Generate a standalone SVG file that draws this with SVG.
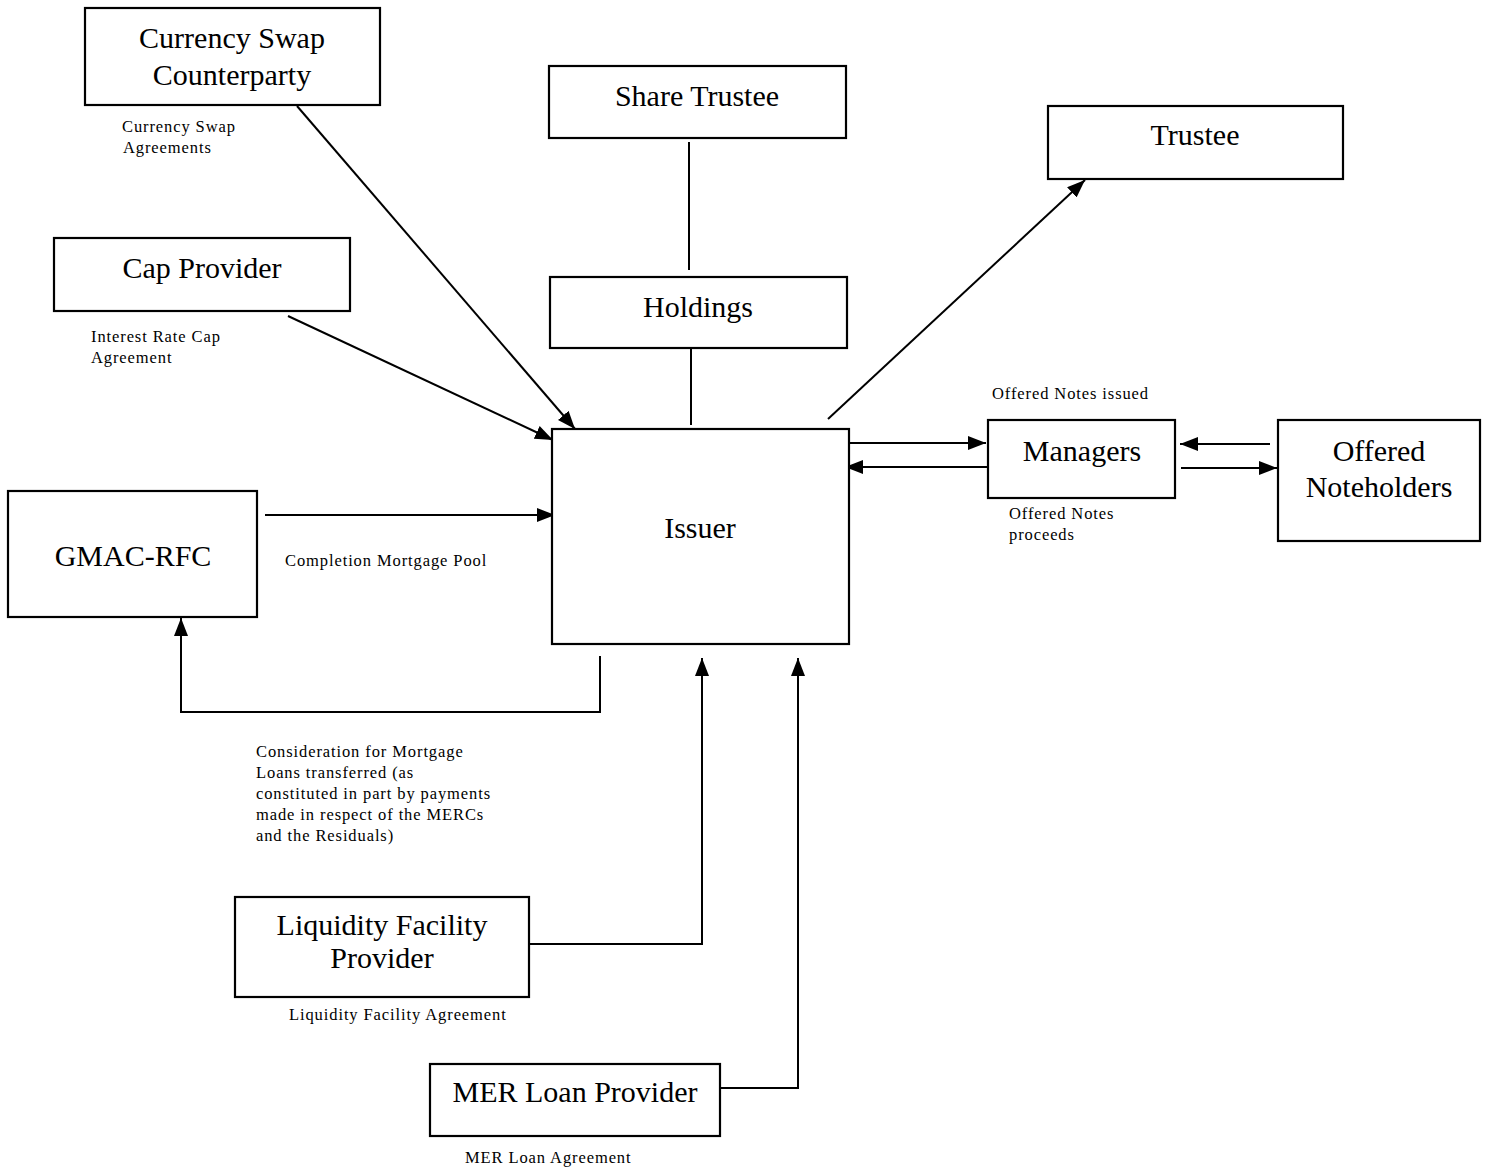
<svg xmlns="http://www.w3.org/2000/svg" width="1489" height="1170" viewBox="0 0 1489 1170">
<style>
.box{fill:#fff;stroke:#000;stroke-width:2.2}
.nt{font-family:"Liberation Serif","Times New Roman",serif;font-size:30px;fill:#000;text-anchor:middle}
.lb{font-family:"Liberation Serif","Times New Roman",serif;font-size:16.5px;letter-spacing:0.9px;fill:#000}
.cn{fill:none;stroke:#000;stroke-width:2}
</style>
<defs>
<marker id="ah" viewBox="0 0 18 14" markerWidth="18" markerHeight="14" refX="18" refY="7" orient="auto" markerUnits="userSpaceOnUse">
<path d="M0,0 L18,7 L0,14 z" fill="#000"/>
</marker>
</defs>
<rect width="1489" height="1170" fill="#fff"/>
<g id="connectors">
<line class="cn" x1="297" y1="106" x2="575" y2="429" marker-end="url(#ah)"/>
<line class="cn" x1="288" y1="316" x2="553" y2="440" marker-end="url(#ah)"/>
<line class="cn" x1="689" y1="142" x2="689" y2="270"/>
<line class="cn" x1="691" y1="348" x2="691" y2="425"/>
<line class="cn" x1="828" y1="419" x2="1085" y2="180" marker-end="url(#ah)"/>
<line class="cn" x1="845" y1="443" x2="986" y2="443" marker-end="url(#ah)"/>
<line class="cn" x1="987" y1="467" x2="845" y2="467" marker-end="url(#ah)"/>
<line class="cn" x1="1270" y1="444" x2="1180" y2="444" marker-end="url(#ah)"/>
<line class="cn" x1="1181" y1="468" x2="1277" y2="468" marker-end="url(#ah)"/>
<line class="cn" x1="265" y1="515" x2="555" y2="515" marker-end="url(#ah)"/>
<path class="cn" d="M600,656 L600,712 L181,712 L181,618" marker-end="url(#ah)"/>
<path class="cn" d="M529,944 L702,944 L702,658" marker-end="url(#ah)"/>
<path class="cn" d="M720,1088 L798,1088 L798,658" marker-end="url(#ah)"/>
</g>
<g id="currency-swap-counterparty">
<rect class="box" x="85" y="8" width="295" height="97"/>
<text class="nt" x="232" y="48">Currency Swap</text>
<text class="nt" x="232" y="85">Counterparty</text>
</g>
<g id="share-trustee">
<rect class="box" x="549" y="66" width="297" height="72"/>
<text class="nt" x="697" y="106">Share Trustee</text>
</g>
<g id="trustee">
<rect class="box" x="1048" y="106" width="295" height="73"/>
<text class="nt" x="1195" y="145">Trustee</text>
</g>
<g id="cap-provider">
<rect class="box" x="54" y="238" width="296" height="73"/>
<text class="nt" x="202" y="278">Cap Provider</text>
</g>
<g id="holdings">
<rect class="box" x="550" y="277" width="297" height="71"/>
<text class="nt" x="698" y="317">Holdings</text>
</g>
<g id="issuer">
<rect class="box" x="552" y="429" width="297" height="215"/>
<text class="nt" x="700" y="538">Issuer</text>
</g>
<g id="managers">
<rect class="box" x="988" y="420" width="187" height="78"/>
<text class="nt" x="1082" y="461">Managers</text>
</g>
<g id="offered-noteholders">
<rect class="box" x="1278" y="420" width="202" height="121"/>
<text class="nt" x="1379" y="461">Offered</text>
<text class="nt" x="1379" y="497">Noteholders</text>
</g>
<g id="gmac-rfc">
<rect class="box" x="8" y="491" width="249" height="126"/>
<text class="nt" x="133" y="566">GMAC-RFC</text>
</g>
<g id="liquidity-facility-provider">
<rect class="box" x="235" y="897" width="294" height="100"/>
<text class="nt" x="382" y="935">Liquidity Facility</text>
<text class="nt" x="382" y="968">Provider</text>
</g>
<g id="mer-loan-provider">
<rect class="box" x="430" y="1064" width="290" height="72"/>
<text class="nt" x="575" y="1102">MER Loan Provider</text>
</g>
<g id="labels">
<text class="lb" x="122" y="132">Currency Swap</text>
<text class="lb" x="123" y="153">Agreements</text>
<text class="lb" x="91" y="342">Interest Rate Cap</text>
<text class="lb" x="91" y="363">Agreement</text>
<text class="lb" x="992" y="399">Offered Notes issued</text>
<text class="lb" x="1009" y="519">Offered Notes</text>
<text class="lb" x="1009" y="540">proceeds</text>
<text class="lb" x="285" y="566">Completion Mortgage Pool</text>
<text class="lb" x="256" y="757">Consideration for Mortgage</text>
<text class="lb" x="256" y="778">Loans transferred (as</text>
<text class="lb" x="256" y="799">constituted in part by payments</text>
<text class="lb" x="256" y="820">made in respect of the MERCs</text>
<text class="lb" x="256" y="841">and the Residuals)</text>
<text class="lb" x="289" y="1020">Liquidity Facility Agreement</text>
<text class="lb" x="465" y="1163">MER Loan Agreement</text>
</g>
</svg>
